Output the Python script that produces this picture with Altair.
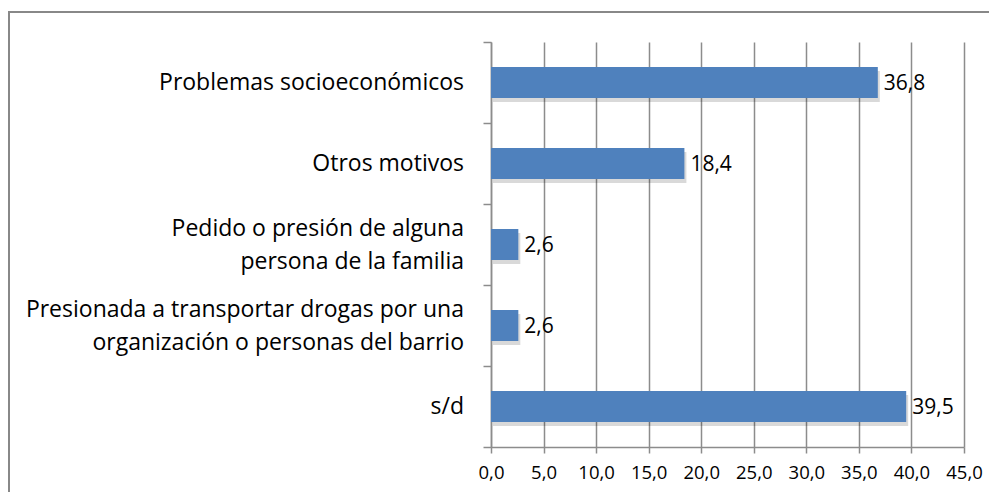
import altair as alt
import pandas as pd

categories = [
    "Problemas socioeconómicos",
    "Otros motivos",
    "Pedido o presión de alguna\npersona de la familia",
    "Presionada a transportar drogas por una\norganización o personas del barrio",
    "s/d",
]
values = [36.8, 18.4, 2.6, 2.6, 39.5]
x_ticks = [0, 5, 10, 15, 20, 25, 30, 35, 40, 45]

df = pd.DataFrame({"cat": categories, "val": values})
df["lbl"] = [f"{v:.1f}".replace(".", ",") for v in values]

FONT = "Open Sans"
BLUE = "#4F81BD"
GRID = "#8c8c8c"

x_scale = alt.Scale(domain=[0, 45], nice=False, zero=True)
y_scale = alt.Scale(paddingInner=0, paddingOuter=0)

y_enc = alt.Y(
    "cat:N",
    sort=categories,
    scale=y_scale,
    title=None,
    axis=alt.Axis(
        labels=False,
        tickBand="extent",
        tickSize=8,
        tickColor=GRID,
        tickWidth=1.5,
        domainColor=GRID,
        domainWidth=1.5,
        grid=False,
    ),
)

x_enc = alt.X(
    "val:Q",
    scale=x_scale,
    title=None,
    axis=alt.Axis(
        values=x_ticks,
        labelExpr="replace(format(datum.value, '.1f'), '.', ',')",
        labelFont=FONT,
        labelFontSize=18.5,
        labelColor="#000000",
        labelPadding=10,
        labelFlush=False,
        labelOverlap=False,
        tickSize=6,
        tickColor=GRID,
        tickWidth=1.5,
        domainColor=GRID,
        domainWidth=1.5,
        grid=True,
        gridColor=GRID,
        gridWidth=1.5,
    ),
)

base = alt.Chart(df)

shadow = base.mark_bar(
    color="#000000", opacity=0.15, xOffset=2, yOffset=4, size=31
).encode(x=x_enc, y=y_enc)
bars = base.mark_bar(color=BLUE, size=31).encode(x=x_enc, y=y_enc)
labels = base.mark_text(
    align="left", baseline="middle", dx=6, dy=1, font=FONT, fontSize=21, color="#000000"
).encode(x=x_enc, y=y_enc, text="lbl:N")

cat_single = base.transform_filter("indexof(datum.cat, '\\n') < 0").mark_text(
    align="right", baseline="middle", font=FONT, fontSize=23, color="#000000"
).encode(x=alt.value(-27), y=y_enc, text="cat:N")

cat_multi = base.transform_filter("indexof(datum.cat, '\\n') >= 0").mark_text(
    align="right", baseline="middle", font=FONT, fontSize=23, color="#000000",
    lineBreak="\n", lineHeight=33, dy=-16
).encode(x=alt.value(-27), y=y_enc, text="cat:N")

border = alt.Chart(pd.DataFrame({"a": [0]})).mark_rect(
    filled=False, stroke="#888888", strokeWidth=2
).encode(
    x=alt.value(-482), x2=alt.value(540), y=alt.value(-30), y2=alt.value(480)
)

chart = (
    alt.layer(border, shadow, bars, labels, cat_single, cat_multi)
    .properties(
        width=473,
        height=405,
        autosize=alt.AutoSizeParams(type="none"),
        padding={"left": 483, "top": 34, "right": 25, "bottom": 45},
        background="#ffffff",
    )
    .configure_view(stroke=None)
)

chart.save("out.html", embed_options={"renderer": "svg", "actions": False})
